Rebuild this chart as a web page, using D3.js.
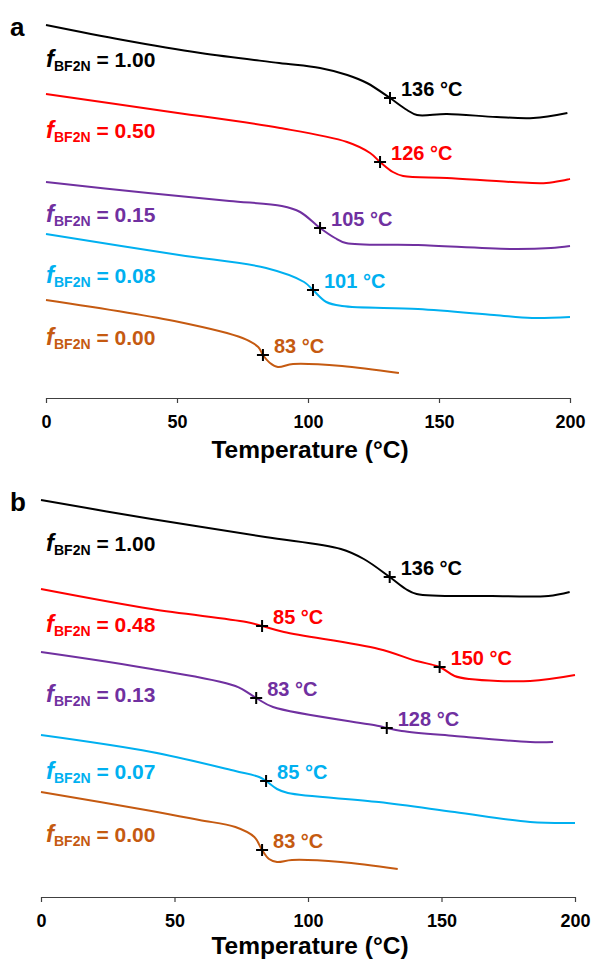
<!DOCTYPE html>
<html>
<head>
<meta charset="utf-8">
<script src="https://cdn.jsdelivr.net/npm/d3@7/dist/d3.min.js"></script>
<style>
  body { margin: 0; background: #fff; }
  svg text { font-family: "Liberation Sans", Arial, sans-serif; font-weight: bold; }
</style>
</head>
<body>
<div id="chart"></div>
<script>
// temperature axis ticks
const tempTicks = [0, 50, 100, 150, 200];

// composition (f BF2N) labels and colours, top to bottom
const fractionsA = ['1.00', '0.50', '0.15', '0.08', '0.00'];
const fractionsB = ['1.00', '0.48', '0.13', '0.07', '0.00'];
const curveColors = ['#000000', '#ff0000', '#7030a0', '#00b0f0', '#c55a11'];

// DSC traces, [temperature (°C), heat flow offset (a.u.)]
const traceA100 = [[0, 37.3], [29.4, 35.8], [59, 34.5], [89, 33.5], [104.6, 33.0], [115, 32.3], [122.5, 31.5], [131.3, 30.0], [137.8, 28.8], [141.6, 28.3], [153, 28.4], [172, 28.1], [186, 28.0], [199, 28.5]];
const traceA050 = [[0, 30.4], [45, 28.7], [89.3, 27.0], [114.9, 25.6], [123.7, 24.5], [127.5, 23.6], [132.4, 22.6], [136.3, 22.2], [153, 22.0], [178, 21.6], [191, 21.5], [200, 21.9]];
const traceA015 = [[0, 21.6], [39, 20.5], [70, 19.7], [90, 19.2], [97, 18.6], [104.6, 17.0], [110.3, 16.0], [114.5, 15.5], [142, 15.3], [178, 14.9], [192.7, 15.0], [200, 15.2]];
const traceA008 = [[0, 16.4], [50.8, 14.3], [84, 13.0], [98.5, 11.6], [101.9, 10.8], [107, 9.6], [113, 9.2], [142, 8.9], [171, 8.3], [185.5, 8.0], [200, 8.1]];
const traceA000 = [[0, 9.8], [50.8, 7.6], [75, 6.0], [81, 5.1], [82.8, 4.3], [85.5, 3.5], [88.5, 3.1], [94.3, 3.4], [113, 3.2], [134.7, 2.5]];

const traceB100 = [[0, 39.7], [41.4, 37.8], [84, 36.0], [112.3, 34.8], [120.9, 33.8], [130.6, 32.0], [136.6, 30.8], [140.7, 30.3], [169, 30.1], [190, 30.1], [198, 30.5]];
const traceB048 = [[0, 30.8], [41.4, 28.8], [76.9, 27.5], [82.8, 27.1], [91, 26.5], [126.5, 24.8], [140.7, 23.6], [149.3, 23.0], [154.9, 22.1], [160.4, 21.8], [183.2, 21.6], [200, 22.2]];
const traceB013 = [[0, 24.5], [41.4, 22.8], [72.8, 21.1], [80.6, 19.9], [86.9, 19.0], [126.5, 17.1], [129.5, 16.9], [135.1, 16.6], [154.9, 16.1], [183.2, 15.5], [191.8, 15.5]];
const traceB007 = [[0, 16.2], [41.4, 14.5], [72.8, 12.6], [81.7, 12.0], [84.3, 11.6], [88.4, 10.8], [92.5, 10.4], [126.5, 9.5], [154.9, 8.5], [183.2, 7.5], [200, 7.4]];
const traceB000 = [[0, 10.5], [41.4, 8.6], [59.3, 7.7], [72.8, 7.0], [79.9, 6.0], [82.8, 4.7], [85.4, 3.8], [88.4, 3.5], [94, 3.7], [112.3, 3.5], [133.6, 2.8]];

// glass transition markers: [temperature, heat flow, label, curve index]
const tgA = [[131.3, 30.0, '136 °C', 0], [127.5, 23.6, '126 °C', 1], [104.6, 17.0, '105 °C', 2], [101.9, 10.8, '101 °C', 3], [82.8, 4.3, '83 °C', 4]];
const tgB = [[130.6, 32.0, '136 °C', 0], [82.8, 27.1, '85 °C', 1], [149.3, 23.0, '150 °C', 1], [80.6, 19.9, '83 °C', 2], [129.5, 16.9, '128 °C', 2], [84.3, 11.6, '85 °C', 3], [82.8, 4.7, '83 °C', 4]];

// heat flow level of each f label baseline
const labelLevelA = [33.1, 26.0, 17.6, 11.5, 5.3];
const labelLevelB = [34.6, 26.5, 19.5, 11.8, 5.5];

const width = 594, height = 960;

const svg = d3.select('#chart').append('svg')
    .attr('width', width)
    .attr('height', height);

function drawPanel(cfg) {
    const x = d3.scaleLinear().domain([0, 200]).range([cfg.left, cfg.right]);
    const y = d3.scaleLinear().domain([0, 40]).range([cfg.axisY, cfg.axisY - 400]);

    const g = svg.append('g');

    g.append('text')
        .attr('x', cfg.letterX)
        .attr('y', cfg.letterY)
        .style('font-size', '26px')
        .text(cfg.letter);

    // axis
    const xAxis = d3.axisBottom(x)
        .tickValues(tempTicks)
        .tickSize(5)
        .tickSizeOuter(0)
        .tickPadding(12);

    const gx = g.append('g')
        .attr('transform', 'translate(0,' + cfg.axisY + ')')
        .call(xAxis);
    gx.select('.domain').attr('stroke', '#404040').attr('stroke-width', 1.2);
    gx.selectAll('.tick line').attr('stroke', '#404040').attr('stroke-width', 1.2);
    gx.selectAll('.tick text')
        .attr('fill', '#000')
        .style('font-size', '18px')
        .style('font-family', '"Liberation Sans", Arial, sans-serif')
        .style('font-weight', 'bold');

    g.append('text')
        .attr('x', (cfg.left + cfg.right) / 2 + 2)
        .attr('y', cfg.axisY + cfg.titleDy)
        .attr('text-anchor', 'middle')
        .style('font-size', '24.5px')
        .text('Temperature (°C)');

    const line = d3.line()
        .x(d => x(d[0]))
        .y(d => y(d[1]))
        .curve(d3.curveCatmullRom.alpha(0.5));

    cfg.traces.forEach((trace, i) => {
        g.append('path')
            .datum(trace)
            .attr('fill', 'none')
            .attr('stroke', curveColors[i])
            .attr('stroke-width', 2)
            .attr('d', line);
    });

    // f BF2N labels
    cfg.fractions.forEach((f, i) => {
        const t = g.append('text')
            .attr('x', 46)
            .attr('y', y(cfg.levels[i]))
            .attr('fill', curveColors[i]);
        t.append('tspan')
            .style('font-style', 'italic')
            .style('font-size', '24px')
            .text('f');
        t.append('tspan')
            .attr('dy', 4)
            .style('font-size', '14px')
            .text('BF2N');
        t.append('tspan')
            .attr('dy', -4)
            .style('font-size', '21px')
            .text(' = ' + f);
    });

    // Tg markers
    cfg.tg.forEach(d => {
        const cx = x(d[0]), cy = y(d[1]);
        g.append('path')
            .attr('d', `M${cx - 6},${cy}H${cx + 6}M${cx},${cy - 6}V${cy + 6}`)
            .attr('stroke', '#000')
            .attr('stroke-width', 2);
        g.append('text')
            .attr('x', cx + 11)
            .attr('y', cy - 2)
            .attr('fill', curveColors[d[3]])
            .style('font-size', '20px')
            .text(d[2]);
    });
}

drawPanel({
    letter: 'a', letterX: 10, letterY: 36,
    left: 46, right: 570, axisY: 398, titleDy: 60,
    traces: [traceA100, traceA050, traceA015, traceA008, traceA000],
    fractions: fractionsA, levels: labelLevelA, tg: tgA
});

drawPanel({
    letter: 'b', letterX: 10, letterY: 511,
    left: 41, right: 575, axisY: 897, titleDy: 57,
    traces: [traceB100, traceB048, traceB013, traceB007, traceB000],
    fractions: fractionsB, levels: labelLevelB, tg: tgB
});
</script>
</body>
</html>
